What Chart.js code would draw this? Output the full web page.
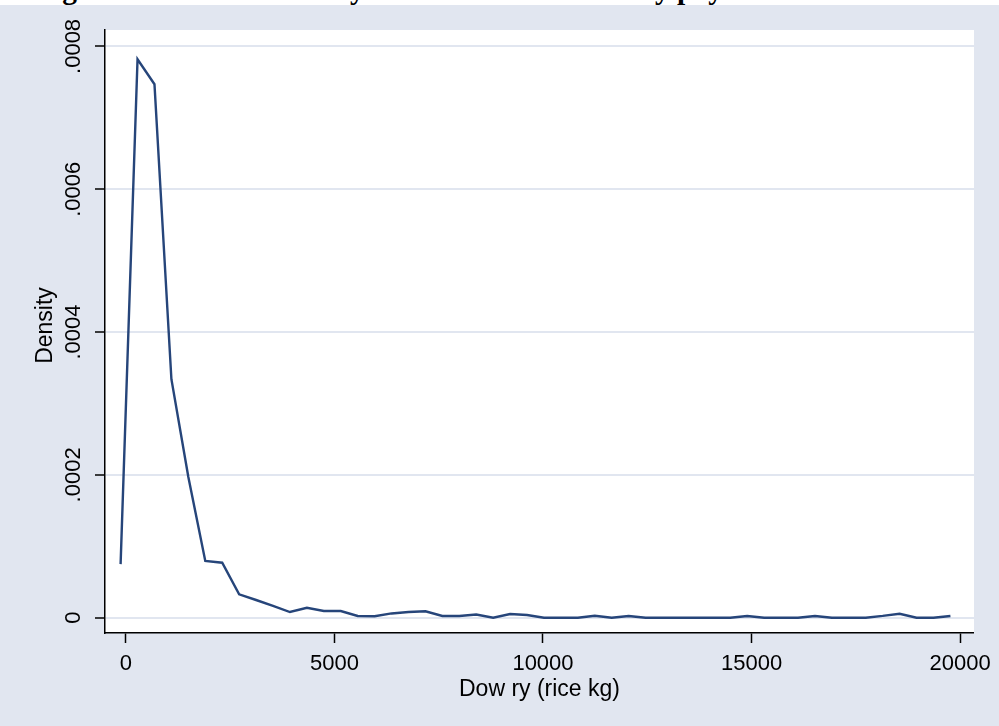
<!DOCTYPE html>
<html>
<head>
<meta charset="utf-8">
<script src="https://cdn.jsdelivr.net/npm/chart.js@4.4.1/dist/chart.umd.min.js"></script>
<style>
  html, body { margin: 0; padding: 0; background: #E1E6F0; }
  #wrap { position: relative; width: 999px; height: 726px; overflow: hidden; }
  #c { position: absolute; left: 0; top: 0; }
  #titleStrip { position: absolute; left: 0; top: 0; width: 999px; height: 5px; overflow: hidden; background: #ffffff; z-index: 2; }
  #titleText { position: absolute; left: 36px; top: -26px; white-space: nowrap; font: bold 29.5px "Liberation Serif", "Times New Roman", serif; line-height: 30px; color: #000; }
</style>
</head>
<body>
<div id="wrap">
  <div id="titleStrip"><div id="titleText">Figure 4.2: Kernel density estimation of the dowry payment</div></div>
  <canvas id="c" width="999" height="726"></canvas>
</div>
<script>
// ---- data ----
const xValues = [-126, 280, 686, 1092, 1498, 1904, 2310, 2716, 3122, 3528,
                 3934, 4340, 4746, 5152, 5558, 5964, 6370, 6776, 7182, 7588,
                 7994, 8400, 8806, 9212, 9618, 10024, 10430, 10836, 11242, 11648,
                 12054, 12460, 12866, 13272, 13678, 14084, 14490, 14896, 15302, 15708,
                 16114, 16520, 16926, 17332, 17738, 18144, 18550, 18956, 19362, 19768];
const densityValues = [0.000075, 0.000782, 0.000747, 0.000334, 0.000197, 0.0000794, 0.000077, 0.0000328, 0.0000248, 0.0000165,
                       0.000008, 0.000014, 0.0000094, 0.0000094, 0.0000024, 0.000002, 0.000006, 0.000008, 0.000009, 0.0000024,
                       0.0000024, 0.0000045, 0, 0.0000052, 0.0000038, 0, 0, 0, 0.0000028, 0,
                       0.0000025, 0, 0, 0, 0, 0, 0, 0.0000025, 0, 0,
                       0, 0.0000025, 0, 0, 0, 0.0000025, 0.0000056, 0, 0, 0.0000025];
const xTickValues = [0, 5000, 10000, 15000, 20000];
const xTickLabels = ['0', '5000', '10000', '15000', '20000'];
const yTickValues = [0, 0.0002, 0.0004, 0.0006, 0.0008];
const yTickLabels = ['0', '.0002', '.0004', '.0006', '.0008'];
const xTitle = 'Dow ry (rice kg)';
const yTitle = 'Density';

const FONT = '"Liberation Sans", Arial, sans-serif';
const BG = '#E1E6F0';

const points = xValues.map((x, i) => ({ x: x, y: densityValues[i] }));

const decor = {
  id: 'decor',
  beforeDraw(chart) {
    const { ctx, chartArea: a } = chart;
    ctx.save();
    ctx.fillStyle = BG;
    ctx.fillRect(0, 0, chart.width, chart.height);
    ctx.fillStyle = '#ffffff';
    ctx.fillRect(a.left, a.top, a.right - a.left, a.bottom - a.top);
    ctx.restore();
  },
  afterDraw(chart) {
    const { ctx, chartArea: a } = chart;
    const ys = chart.scales.y;
    ctx.save();
    ctx.fillStyle = '#000';
    ctx.textAlign = 'center';
    ctx.textBaseline = 'middle';
    ctx.font = '22px ' + FONT;
    yTickValues.forEach((v, i) => {
      const py = ys.getPixelForValue(v);
      ctx.save();
      ctx.translate(74, py);
      ctx.rotate(-Math.PI / 2);
      ctx.fillText(yTickLabels[i], 0, 0);
      ctx.restore();
    });
    ctx.font = '23px ' + FONT;
    ctx.save();
    ctx.translate(46, (a.top + a.bottom) / 2 - 6);
    ctx.rotate(-Math.PI / 2);
    ctx.fillText(yTitle, 0, 0);
    ctx.restore();
    ctx.fillText(xTitle, (a.left + a.right) / 2, 690);
    ctx.restore();
  }
};

new Chart(document.getElementById('c'), {
  type: 'line',
  data: {
    datasets: [{
      data: points,
      borderColor: '#26457A',
      borderWidth: 2.4,
      pointRadius: 0,
      tension: 0,
      fill: false
    }]
  },
  options: {
    responsive: false,
    animation: false,
    devicePixelRatio: 1,
    layout: { padding: { top: 30, right: 19, left: 0, bottom: 0 } },
    plugins: { legend: { display: false }, tooltip: { enabled: false }, title: { display: false } },
    scales: {
      x: {
        type: 'linear',
        min: -500,
        max: 20333,
        afterBuildTicks(scale) { scale.ticks = xTickValues.map(v => ({ value: v })); },
        afterFit(scale) { scale.height = 93; },
        ticks: {
          autoSkip: false, maxRotation: 0, minRotation: 0, padding: 8, color: '#000',
          font: { family: FONT, size: 22 },
          callback: (v) => xTickLabels[xTickValues.indexOf(v)]
        },
        grid: { drawOnChartArea: false, drawTicks: true, tickLength: 10, tickColor: '#000', tickWidth: 1.5 },
        border: { display: true, color: '#000', width: 1.5 }
      },
      y: {
        type: 'linear',
        min: -0.0000214,
        max: 0.000823,
        afterBuildTicks(scale) { scale.ticks = yTickValues.map(v => ({ value: v })); },
        afterFit(scale) { scale.width = 105; },
        ticks: { display: false },
        grid: { color: BG, lineWidth: 2, drawTicks: true, tickLength: 10, tickColor: '#000', tickWidth: 1.5 },
        border: { display: true, color: '#000', width: 1.5 }
      }
    }
  },
  plugins: [decor]
});
</script>
</body>
</html>
